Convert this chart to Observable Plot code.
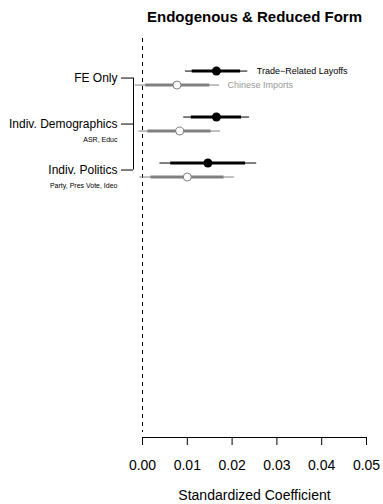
<!DOCTYPE html>
<html>
<head>
<meta charset="utf-8">
<script src="https://cdn.jsdelivr.net/npm/d3@7"></script>
<script src="https://cdn.jsdelivr.net/npm/@observablehq/plot@0.6"></script>
<style>
  body { margin: 0; background: #fff; }
  svg { font-family: "Liberation Sans", Arial, Helvetica, sans-serif; }
</style>
</head>
<body>
<div id="chart"></div>
<script>
const title = "Endogenous & Reduced Form";
const xLabel = "Standardized Coefficient";
const groups = ["FE Only", "Indiv. Demographics", "Indiv. Politics"];
const subLabels = ["", "ASR, Educ", "Party, Pres Vote, Ideo"];
const seriesNames = ["Trade\u2212Related Layoffs", "Chinese Imports"];

const tradeEst  = [0.0165, 0.0165, 0.0146];
const tradeLo95 = [0.0096, 0.0092, 0.0039];
const tradeHi95 = [0.0235, 0.0239, 0.0255];
const tradeLo90 = [0.0111, 0.0109, 0.0063];
const tradeHi90 = [0.0219, 0.0221, 0.0230];

const chinaEst  = [0.0077, 0.0083, 0.0100];
const chinaLo95 = [-0.0016, -0.0008, -0.0006];
const chinaHi95 = [0.0172, 0.0174, 0.0205];
const chinaLo90 = [0.0007, 0.0012, 0.0019];
const chinaHi90 = [0.0150, 0.0153, 0.0182];

const xTicks = [0, 0.01, 0.02, 0.03, 0.04, 0.05];

const trade = groups.map((g, i) => ({g: i + 1, est: tradeEst[i], lo95: tradeLo95[i], hi95: tradeHi95[i], lo90: tradeLo90[i], hi90: tradeHi90[i]}));
const china = groups.map((g, i) => ({g: i + 1, est: chinaEst[i], lo95: chinaLo95[i], hi95: chinaHi95[i], lo90: chinaLo90[i], hi90: chinaHi90[i]}));
const groupRows = groups.map((g, i) => ({g: i + 1, label: g, sub: subLabels[i]}));

const yDomain = [0.14, 8.815];
const font = "Liberation Sans, Arial, Helvetica, sans-serif";
const grayLine = "#808080";

const chart = Plot.plot({
  width: 383,
  height: 504,
  marginTop: 38,
  marginBottom: 67,
  marginLeft: 142,
  marginRight: 17,
  style: {fontFamily: font, background: "#fff", color: "#000", overflow: "visible"},
  x: {domain: [xTicks[0], xTicks[xTicks.length - 1]]},
  y: {domain: yDomain, reverse: true, axis: null},
  marks: [
    // dashed zero line
    Plot.ruleX([0], {stroke: "#000", strokeWidth: 1, strokeDasharray: "4,4", insetBottom: 5}),
    // x axis line
    Plot.ruleY([yDomain[1]], {x1: xTicks[0], x2: xTicks[xTicks.length - 1], stroke: "#000", strokeWidth: 1}),
    Plot.axisX({ticks: xTicks, tickFormat: d3.format(".2f"), tickSize: 8, tickPadding: 15, fontSize: 14, label: null, stroke: "#000", fill: "#000"}),
    Plot.text([xLabel], {frameAnchor: "bottom", dy: 62, fontSize: 14, fill: "#000"}),
    // group axis (bracket)
    Plot.ruleX([0], {y1: 1, y2: groups.length, dx: -9, stroke: "#000", strokeWidth: 1}),
    Plot.axisY({ticks: groupRows.map(d => d.g), tickFormat: d => groups[d - 1], tickSize: 12, tickPadding: 4, dx: -9, fontSize: 12, label: null, stroke: "#000", fill: "#000"}),
    Plot.text(groupRows, {y: "g", text: "sub", frameAnchor: "left", dx: -25, dy: 16, textAnchor: "end", fontSize: 7, fill: "#000"}),
    // Chinese imports
    Plot.ruleY(china, {y: "g", x1: "lo95", x2: "hi95", dy: 7, stroke: grayLine, strokeWidth: 1}),
    Plot.ruleY(china, {y: "g", x1: "lo90", x2: "hi90", dy: 7, stroke: grayLine, strokeWidth: 3}),
    Plot.dot(china, {y: "g", x: "est", dy: 7, r: 4, fill: "#fff", stroke: grayLine, strokeWidth: 1}),
    // Trade-related layoffs
    Plot.ruleY(trade, {y: "g", x1: "lo95", x2: "hi95", dy: -7, stroke: "#000", strokeWidth: 1}),
    Plot.ruleY(trade, {y: "g", x1: "lo90", x2: "hi90", dy: -7, stroke: "#000", strokeWidth: 3}),
    Plot.dot(trade, {y: "g", x: "est", dy: -7, r: 4.5, fill: "#000"}),
    // series labels
    Plot.text([trade[0]], {y: "g", x: "hi95", text: () => seriesNames[0], dx: 9, dy: -7, textAnchor: "start", fontSize: 9, fill: "#000"}),
    Plot.text([china[0]], {y: "g", x: "hi95", text: () => seriesNames[1], dx: 8, dy: 7, textAnchor: "start", fontSize: 9, fill: "#999"}),
    // title
    Plot.text([title], {frameAnchor: "top", dy: -27, fontSize: 15, fontWeight: "bold", fill: "#000"})
  ]
});
document.getElementById("chart").appendChild(chart);
</script>
</body>
</html>
